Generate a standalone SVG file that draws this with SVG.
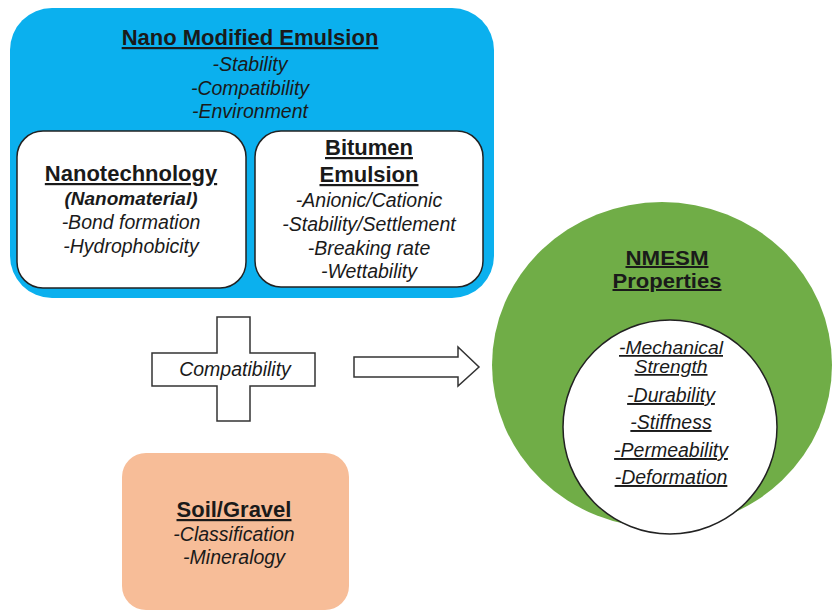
<svg xmlns="http://www.w3.org/2000/svg" width="832" height="612" viewBox="0 0 832 612">
<style>
text{font-family:"Liberation Sans",Arial,sans-serif;fill:#1a1a1a;text-anchor:middle}
.h{font-weight:bold;font-size:22px;text-decoration:underline}
.i{font-style:italic;font-size:19.5px}
.u{font-style:italic;font-size:19.5px;text-decoration:underline}
.box{fill:#fff;stroke:#222;stroke-width:1.5}
.shape{fill:#fff;stroke:#333;stroke-width:1.5}
</style>
<rect width="832" height="612" fill="#fff"/>
<g id="nano-modified-emulsion">
<rect x="10" y="8" width="484" height="290" rx="42" fill="#0BB0EE"/>
<text class="h" x="250" y="45">Nano Modified Emulsion</text>
<text class="i" x="250" y="71">-Stability</text>
<text class="i" x="250" y="95">-Compatibility</text>
<text class="i" x="250" y="118">-Environment</text>
</g>
<g id="nanotechnology">
<rect class="box" x="17" y="131" width="229" height="157" rx="26"/>
<text class="h" x="131" y="181">Nanotechnology</text>
<text x="131" y="205" style="font-weight:bold;font-style:italic;font-size:19px">(Nanomaterial)</text>
<text class="i" x="131" y="229">-Bond formation</text>
<text class="i" x="131" y="253">-Hydrophobicity</text>
</g>
<g id="bitumen-emulsion">
<rect class="box" x="255" y="131" width="228" height="156" rx="26"/>
<text class="h" x="369" y="155">Bitumen</text>
<text class="h" x="369" y="182">Emulsion</text>
<text class="i" x="369" y="207">-Anionic/Cationic</text>
<text class="i" x="369" y="231">-Stability/Settlement</text>
<text class="i" x="369" y="255">-Breaking rate</text>
<text class="i" x="369" y="278">-Wettability</text>
</g>
<g id="compatibility">
<path class="shape" d="M217,317 H250 V353 H315 V386 H250 V421 H217 V386 H152 V353 H217 Z"/>
<text class="i" x="235" y="376">Compatibility</text>
</g>
<g id="connectors">
<path class="shape" d="M354,357 H458 V347 L479,367 L458,386 V377 H354 Z"/>
</g>
<g id="nmesm-properties">
<ellipse cx="662" cy="365" rx="170" ry="163" fill="#70AD47"/>
<text class="h" x="667" y="265" style="font-size:20px" textLength="83" lengthAdjust="spacingAndGlyphs">NMESM</text>
<text class="h" x="667" y="288" style="font-size:20px" textLength="109" lengthAdjust="spacingAndGlyphs">Properties</text>
<circle cx="670" cy="427" r="107" fill="#fff" stroke="#222" stroke-width="1.5"/>
<text class="u" x="671" y="354" style="font-size:17.5px" textLength="104" lengthAdjust="spacingAndGlyphs">-Mechanical</text>
<text class="u" x="671" y="373" style="font-size:17.5px" textLength="73" lengthAdjust="spacingAndGlyphs">Strength</text>
<text class="u" x="671" y="402">-Durability</text>
<text class="u" x="671" y="429">-Stiffness</text>
<text class="u" x="671" y="457">-Permeability</text>
<text class="u" x="671" y="484">-Deformation</text>
</g>
<g id="soil-gravel">
<rect x="122" y="453" width="227" height="157" rx="24" fill="#F7BD98"/>
<text class="h" x="234" y="517">Soil/Gravel</text>
<text class="i" x="234" y="541">-Classification</text>
<text class="i" x="234" y="564">-Mineralogy</text>
</g>
</svg>
